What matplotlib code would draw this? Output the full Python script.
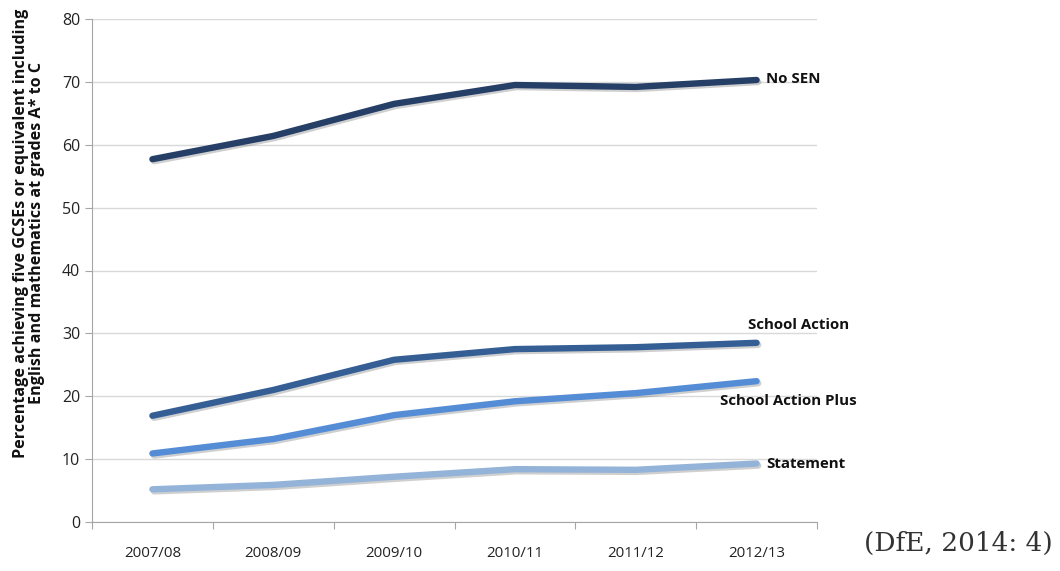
"""
SEN groups: percentage achieving five GCSEs A*-C incl. English and maths
"""
import matplotlib
matplotlib.use("Agg")
import matplotlib.pyplot as plt
import matplotlib.patheffects as pe
import numpy as np

# data
years = ["2007/08", "2008/09", "2009/10", "2010/11", "2011/12", "2012/13"]
no_sen = [57.7, 61.4, 66.5, 69.5, 69.2, 70.3]
school_action = [16.9, 21.0, 25.8, 27.5, 27.8, 28.5]
school_action_plus = [10.9, 13.2, 17.0, 19.2, 20.5, 22.4]
statement = [5.2, 5.9, 7.2, 8.4, 8.3, 9.3]

series = [
    ("No SEN", no_sen, "#253f66", (7, 1)),
    ("School Action", school_action, "#355f94", (-6, 13)),
    ("School Action Plus", school_action_plus, "#548dd6", (-26, -14.5)),
    ("Statement", statement, "#94b3d8", (7, 0)),
]

plt.rcParams['font.family'] = ['Open Sans', 'DejaVu Sans']

fig = plt.figure(figsize=(10.6, 5.71), dpi=100)
ax = fig.add_axes([92 / 1060, 1 - 522 / 571, (817 - 92) / 1060, (522 - 19) / 571])

x = np.arange(len(years))
shadow = [pe.SimpleLineShadow(offset=(1.2, -1.5), alpha=0.28, shadow_color="#555555"), pe.Normal()]
for name, vals, col, off in series:
    ax.plot(x, vals, color=col, lw=4.6, solid_capstyle="round", solid_joinstyle="round",
            path_effects=shadow, zorder=3)
    ax.annotate(name, (x[-1], vals[-1]), xytext=off, textcoords="offset points",
                ha="left", va="center", fontsize=10.8, fontweight="bold", color="#111111")

ax.set_xlim(-0.5, len(years) - 0.5)
ax.set_ylim(0, 80)
ax.set_yticks(np.arange(0, 81, 10))
ax.tick_params(axis="y", labelsize=11.5, length=5, color="#a6a6a6", labelcolor="#222222")

# category boundaries as major ticks, labels on minor ticks at centres
ax.set_xticks(np.arange(-0.5, len(years), 1.0))
ax.set_xticklabels([])
ax.set_xticks(x, minor=True)
ax.set_xticklabels(years, minor=True)
ax.tick_params(axis="x", which="major", length=5, color="#a6a6a6")
ax.tick_params(axis="x", which="minor", length=0, pad=17, labelsize=10.8, labelcolor="#222222")

ax.grid(axis="y", color="#d9d9d9", lw=1)
ax.set_axisbelow(True)
for s in ["top", "right"]:
    ax.spines[s].set_visible(False)
for s in ["left", "bottom"]:
    ax.spines[s].set_color("#a6a6a6")

fig.text(29 / 1060, 1 - 233 / 571,
         "Percentage achieving five GCSEs or equivalent including\n"
         "English and mathematics at grades A* to C",
         rotation=90, ha="center", va="center", multialignment="center",
         fontsize=11.6, fontweight="bold", linespacing=1.05, color="#111111")

fig.text(0.993, 0.035, "(DfE, 2014: 4)", ha="right", va="baseline",
         fontsize=19, family=["DejaVu Serif Condensed", "DejaVu Serif"], color="#333333")

fig.savefig("out.png", dpi=100)
